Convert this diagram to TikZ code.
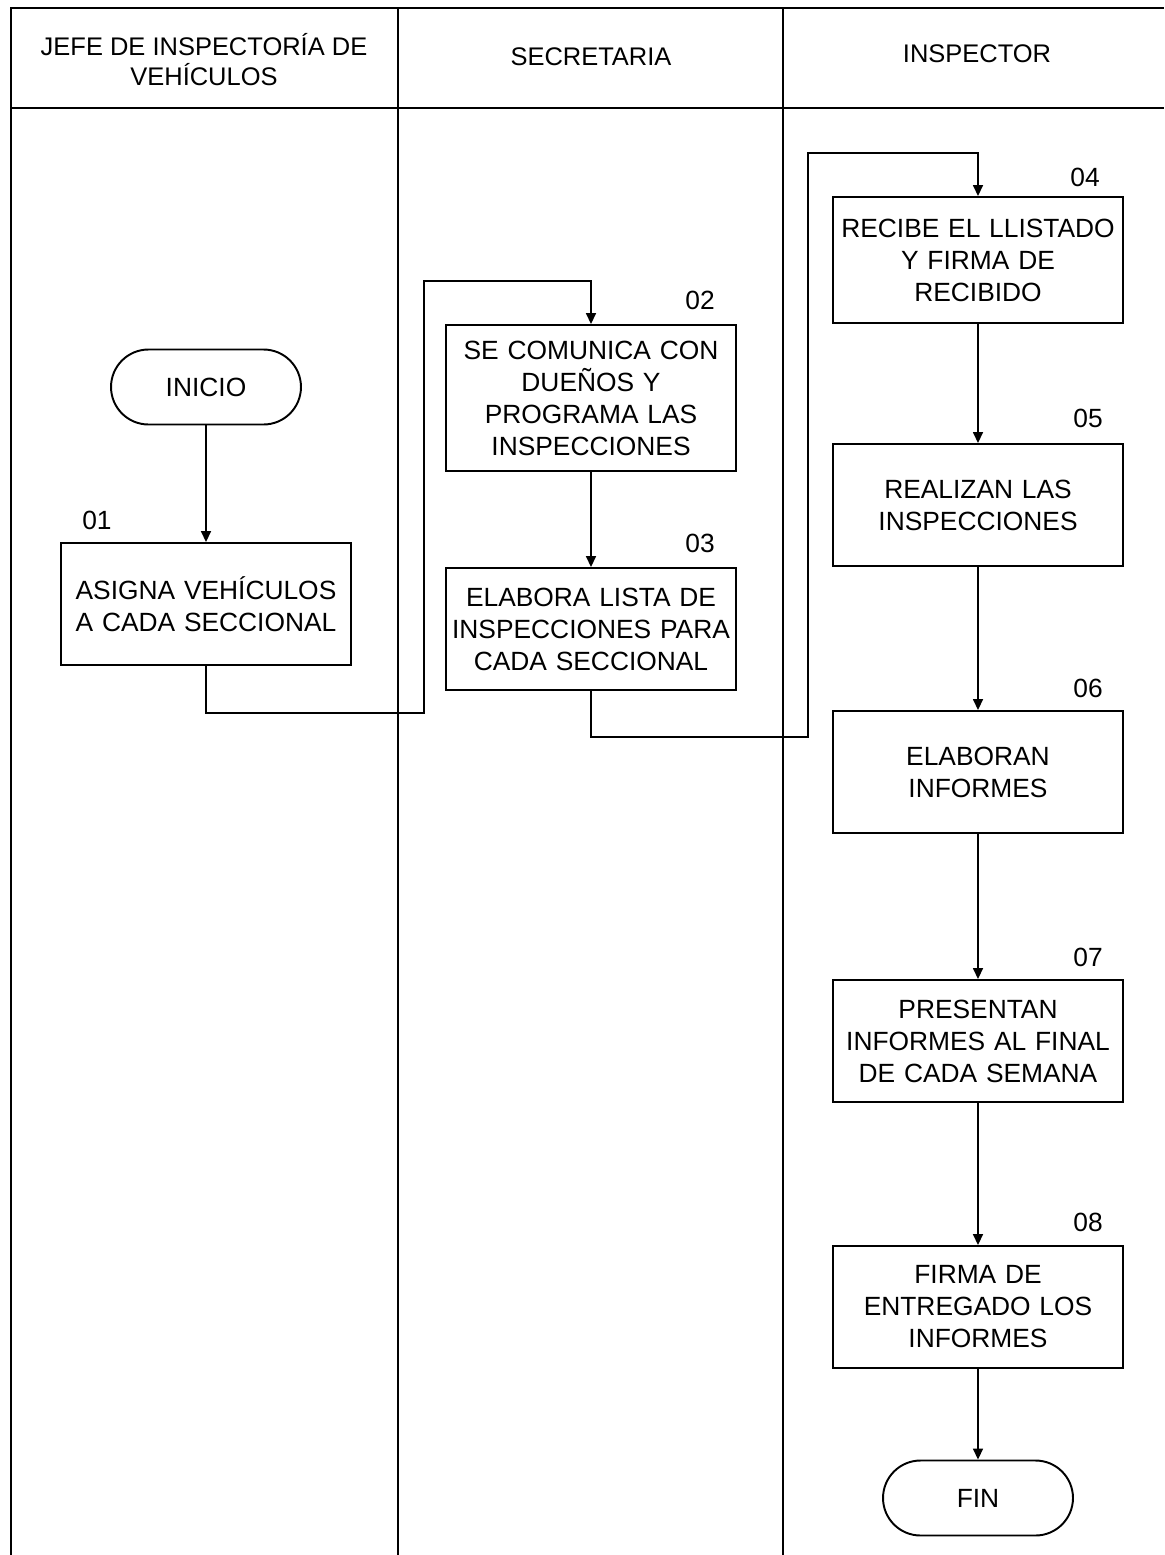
\documentclass[tikz,border=0pt]{standalone}
\usepackage{fontspec}
\setmainfont{Liberation Sans}
\usetikzlibrary{arrows.meta, positioning}

\begin{document}
\begin{tikzpicture}[x=0.02cm, y=-0.02cm, every node/.style={font=\fontsize{15}{18.2}\selectfont},
    proc/.style={draw, line width=1.1pt, rectangle, text width=5.6cm, inner xsep=0.1cm, align=center, minimum height=2.44cm},
    term/.style={draw, line width=1.1pt, rectangle, rounded corners=0.75cm, minimum width=3.8cm, minimum height=1.5cm},
    head/.style={align=center, font=\fontsize{14.5}{17}\selectfont},
    lane/.style={line width=0.9pt},
    flow/.style={line width=0.9pt, -{Triangle[length=2.2mm, width=2mm]}}]
\useasboundingbox (0,0) rectangle (1164,1555);
\draw [lane] (11,1555) -- (11,8) -- (1164,8);
\draw [lane] (11,108) -- (1164,108);
\draw [lane] (398,8) -- (398,1555);
\draw [lane] (783,8) -- (783,1555);
\node (h1) [head] at (204,60) {JEFE DE INSPECTORÍA DE\\VEHÍCULOS};
\node (h2) [head] at (591,57) {SECRETARIA};
\node (h3) [head] at (977,54) {INSPECTOR};
\node (ini) [term] at (206,387) {INICIO};
\node (b01) [proc] at (206,604) {ASIGNA VEHÍCULOS\\A CADA SECCIONAL};
\node (b02) [proc, minimum height=2.92cm] at (591,398) {SE COMUNICA CON\\DUEÑOS Y\\PROGRAMA LAS\\INSPECCIONES};
\node (b03) [proc] at (591,629) {ELABORA LISTA DE\\INSPECCIONES PARA\\CADA SECCIONAL};
\node (b04) [proc, minimum height=2.52cm] at (978,260) {RECIBE EL LLISTADO\\Y FIRMA DE\\RECIBIDO};
\node (b05) [proc] at (978,505) {REALIZAN LAS\\INSPECCIONES};
\node (b06) [proc] at (978,772) {ELABORAN\\INFORMES};
\node (b07) [proc] at (978,1041) {PRESENTAN\\INFORMES AL FINAL\\DE CADA SEMANA};
\node (b08) [proc] at (978,1307) {FIRMA DE\\ENTREGADO LOS\\INFORMES};
\node (fin) [term] at (978,1498) {FIN};
\node (n01) at (97,520) {01};
\node (n02) at (700,300) {02};
\node (n03) at (700,543) {03};
\node (n04) at (1085,177) {04};
\node (n05) at (1088,418) {05};
\node (n06) at (1088,688) {06};
\node (n07) at (1088,957) {07};
\node (n08) at (1088,1222) {08};
\coordinate (c1) at (424,713);
\coordinate (c2) at (424,281);
\coordinate (c3) at (808,737);
\coordinate (c4) at (808,153);
\draw [flow] (ini) -- (b01);
\draw [flow] (b01.south) |- (c1) -- (c2) -| (b02.north);
\draw [flow] (b02) -- (b03);
\draw [flow] (b03.south) |- (c3) -- (c4) -| (b04.north);
\draw [flow] (b04) -- (b05);
\draw [flow] (b05) -- (b06);
\draw [flow] (b06) -- (b07);
\draw [flow] (b07) -- (b08);
\draw [flow] (b08) -- (fin);
\end{tikzpicture}
\end{document}
